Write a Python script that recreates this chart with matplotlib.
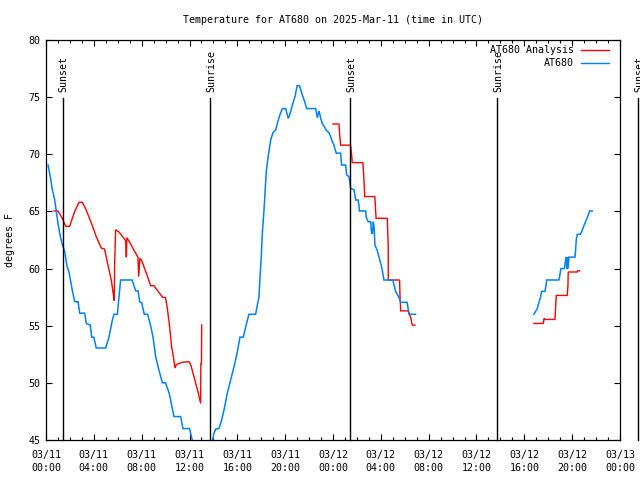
import matplotlib
matplotlib.use("Agg")
import matplotlib.pyplot as plt
from matplotlib.lines import Line2D

# ---- data (hours since 2025-03-11 00:00 UTC, degrees F) ----
blue_seg1 = [
    (0.17, 69.06), (0.36, 68.04), (0.53, 66.9), (0.72, 66.06), (0.86, 64.98), (1.0, 63.96),
    (1.2, 62.8), (1.37, 62.1), (1.56, 61.5), (1.76, 60.2), (1.92, 59.7), (2.2, 58.1),
    (2.4, 57.1), (2.68, 57.1), (2.82, 56.1), (3.23, 56.1), (3.37, 55.2), (3.7, 55.06),
    (3.82, 54.0), (4.0, 54.0), (4.2, 53.05), (4.99, 53.05), (5.27, 54.0), (5.55, 55.5),
    (5.69, 56.0), (5.97, 56.0), (6.1, 57.5), (6.24, 59.0), (7.2, 59.0), (7.5, 58.05),
    (7.7, 58.05), (7.83, 57.1), (8.0, 57.0), (8.22, 56.0), (8.5, 56.0), (8.75, 55.0),
    (8.95, 54.0), (9.17, 52.3), (9.45, 51.1), (9.73, 50.0), (10.0, 50.0), (10.3, 49.1),
    (10.7, 47.05), (11.26, 47.05), (11.45, 46.0), (12.0, 46.0), (12.23, 45.0), (12.6, 43.8),
    (13.3, 43.5), (13.8, 44.3), (14.05, 45.6), (14.19, 45.95), (14.46, 46.0), (14.69, 46.75),
    (14.88, 47.6), (15.16, 49.1), (15.44, 50.25), (15.72, 51.4), (16.0, 52.7), (16.22, 54.0),
    (16.5, 54.0), (16.7, 54.9), (16.97, 56.0), (17.53, 56.0), (17.67, 56.8), (17.81, 57.5),
    (17.9, 59.3), (18.0, 61.0), (18.09, 63.1), (18.23, 65.1), (18.31, 66.6), (18.42, 68.5),
    (18.59, 69.9), (18.79, 71.25), (18.98, 71.9), (19.2, 72.1), (19.34, 72.7), (19.54, 73.4),
    (19.76, 74.0), (20.04, 74.0), (20.26, 73.15), (20.37, 73.4), (20.6, 74.3), (20.82, 75.04),
    (21.0, 76.0), (21.2, 76.0), (21.43, 75.2), (21.63, 74.6), (21.8, 74.0), (22.55, 74.0),
    (22.69, 73.2), (22.83, 73.8), (22.97, 73.15), (23.1, 72.7), (23.33, 72.3), (23.52, 72.0),
    (23.66, 71.9), (23.8, 71.55), (23.94, 71.1), (24.05, 70.9), (24.27, 70.1), (24.64, 70.1),
    (24.72, 69.06), (25.06, 69.06), (25.14, 68.2), (25.33, 68.05), (25.4, 67.6), (25.48, 67.0),
    (25.75, 66.9), (25.84, 66.4), (25.9, 66.0), (26.1, 66.0), (26.17, 65.56), (26.2, 65.04),
    (26.73, 65.04), (26.78, 64.5), (26.95, 64.1), (27.15, 64.1), (27.23, 63.1), (27.3, 63.1),
    (27.37, 64.1), (27.45, 63.5), (27.5, 62.06), (27.7, 61.6), (27.84, 61.0), (27.98, 60.5),
    (28.1, 60.0), (28.26, 59.0), (29.0, 59.0), (29.1, 58.6), (29.24, 58.0), (29.5, 57.5),
    (29.66, 57.05), (30.2, 57.05), (30.35, 56.0), (30.9, 56.0),
]
blue_seg2 = [
    (40.8, 56.0), (41.08, 56.5), (41.22, 57.05), (41.36, 57.5), (41.44, 58.0), (41.72, 58.0),
    (41.83, 58.6), (41.86, 59.0), (42.9, 59.0), (42.98, 59.5), (43.06, 60.0), (43.34, 60.0),
    (43.42, 60.5), (43.5, 61.0), (43.55, 60.0), (43.6, 61.0), (43.65, 60.0), (43.73, 61.0),
    (44.23, 61.0), (44.28, 61.5), (44.34, 62.5), (44.43, 63.0), (44.7, 63.0), (44.86, 63.4),
    (45.0, 63.8), (45.18, 64.25), (45.35, 64.7), (45.46, 65.04), (45.68, 65.04),
]
red_seg1 = [
    (0.67, 65.04), (1.0, 65.04), (1.28, 64.55), (1.48, 64.1), (1.65, 63.7), (1.98, 63.7),
    (2.4, 65.0), (2.76, 65.8), (3.04, 65.8), (3.37, 65.1), (3.79, 64.0), (4.2, 62.8),
    (4.62, 61.8), (4.9, 61.7), (5.18, 60.3), (5.46, 59.0), (5.66, 57.5), (5.7, 57.2),
    (5.74, 60.3), (5.82, 63.4), (6.1, 63.2), (6.52, 62.65), (6.66, 62.45), (6.72, 61.0),
    (6.76, 62.7), (7.0, 62.3), (7.36, 61.6), (7.69, 61.0), (7.75, 59.3), (7.85, 60.9),
    (8.0, 60.7), (8.39, 59.6), (8.75, 58.5), (9.03, 58.5), (9.31, 58.1), (9.73, 57.5),
    (10.0, 57.45), (10.15, 56.5), (10.34, 54.9), (10.5, 53.2), (10.65, 52.3), (10.79, 51.3),
    (10.9, 51.6), (11.4, 51.8), (11.96, 51.85), (12.1, 51.6), (12.37, 50.55), (12.74, 49.1),
    (12.93, 48.2), (12.95, 51.7), (13.0, 51.7), (13.02, 55.06),
]
red_seg2 = [
    (24.0, 72.65), (24.5, 72.65), (24.55, 71.8), (24.64, 70.8), (25.47, 70.8), (25.56, 69.94),
    (25.61, 69.27), (26.5, 69.27), (26.59, 67.75), (26.65, 66.3), (27.5, 66.3), (27.6, 64.4),
    (28.54, 64.4), (28.6, 62.5), (28.62, 61.6), (28.62, 59.0), (29.57, 59.0), (29.6, 57.7),
    (29.66, 56.3), (30.3, 56.3), (30.5, 55.7), (30.63, 55.05), (30.85, 55.05),
]
red_seg3 = [
    (40.8, 55.2), (41.58, 55.2), (41.66, 55.65), (41.7, 55.55), (42.56, 55.55), (42.62, 56.7),
    (42.67, 57.65), (43.59, 57.65), (43.65, 58.6), (43.67, 59.7), (44.42, 59.7), (44.45, 59.8),
    (44.62, 59.8),
]
sun_hours = [1.38, 13.74, 25.45, 37.74, 49.5]
sun_labels = ["Sunset", "Sunrise", "Sunset", "Sunrise", "Sunset"]
x_ticks = [0, 4, 8, 12, 16, 20, 24, 28, 32, 36, 40, 44, 48]
x_tick_labels = ["03/11\n00:00", "03/11\n04:00", "03/11\n08:00", "03/11\n12:00",
                 "03/11\n16:00", "03/11\n20:00", "03/12\n00:00", "03/12\n04:00",
                 "03/12\n08:00", "03/12\n12:00", "03/12\n16:00", "03/12\n20:00",
                 "03/13\n00:00"]
y_ticks = [45, 50, 55, 60, 65, 70, 75, 80]
series_names = ["AT680 Analysis", "AT680"]
RED = "#ff0000"
BLUE = "#0080ff"

plt.rcParams['font.family'] = ['DejaVu Sans Mono']
FS = 7.2

fig = plt.figure(figsize=(6.4, 4.8), dpi=100)
ax = fig.add_axes([46/640, 40/480, 574/640, 400/480])

def unzip(seg):
    return [p[0] for p in seg], [p[1] for p in seg]

for seg in (red_seg1, red_seg2, red_seg3):
    xs, ys = unzip(seg)
    ax.plot(xs, ys, color=RED, lw=1.0, solid_joinstyle='miter')
for seg in (blue_seg1, blue_seg2):
    xs, ys = unzip(seg)
    ax.plot(xs, ys, color=BLUE, lw=1.1, solid_joinstyle='miter')

for h, lab in zip(sun_hours, sun_labels):
    ax.plot([h, h], [45, 74.9], color='black', lw=1.0, clip_on=False)
    ax.text(h + 0.08, 75.45, lab, rotation=90, ha='center', va='bottom',
            fontsize=FS, clip_on=False)

ax.set_xlim(0, 48)
ax.set_ylim(45, 80)
ax.set_xticks(x_ticks)
ax.set_xticklabels(x_tick_labels, fontsize=FS, linespacing=1.35)
ax.set_xticks(range(0, 49), minor=True)
ax.set_yticks(y_ticks)
ax.set_yticklabels([str(v) for v in y_ticks], fontsize=FS)
ax.tick_params(which='both', direction='in', top=True, right=True, width=0.8)
ax.tick_params(which='major', length=4.0, pad=4)
ax.tick_params(which='minor', length=2.5)
ax.tick_params(axis='x', which='major', pad=7)
for s in ax.spines.values():
    s.set_linewidth(0.9)

ax.set_ylabel("degrees F", fontsize=FS, labelpad=10)
ax.set_title("Temperature for AT680 on 2025-Mar-11 (time in UTC)", fontsize=FS, pad=12)

# legend (top right, text right-aligned, sample line to the right)
for i, (name, col) in enumerate(zip(series_names, [RED, BLUE])):
    yy = 0.976 - i * 0.033
    ax.text(0.92, yy, name, transform=ax.transAxes, ha='right', va='center', fontsize=FS)
    ax.add_line(Line2D([0.932, 0.981], [yy, yy], transform=ax.transAxes, color=col, lw=1.0))

fig.savefig("out.png", dpi=100)
